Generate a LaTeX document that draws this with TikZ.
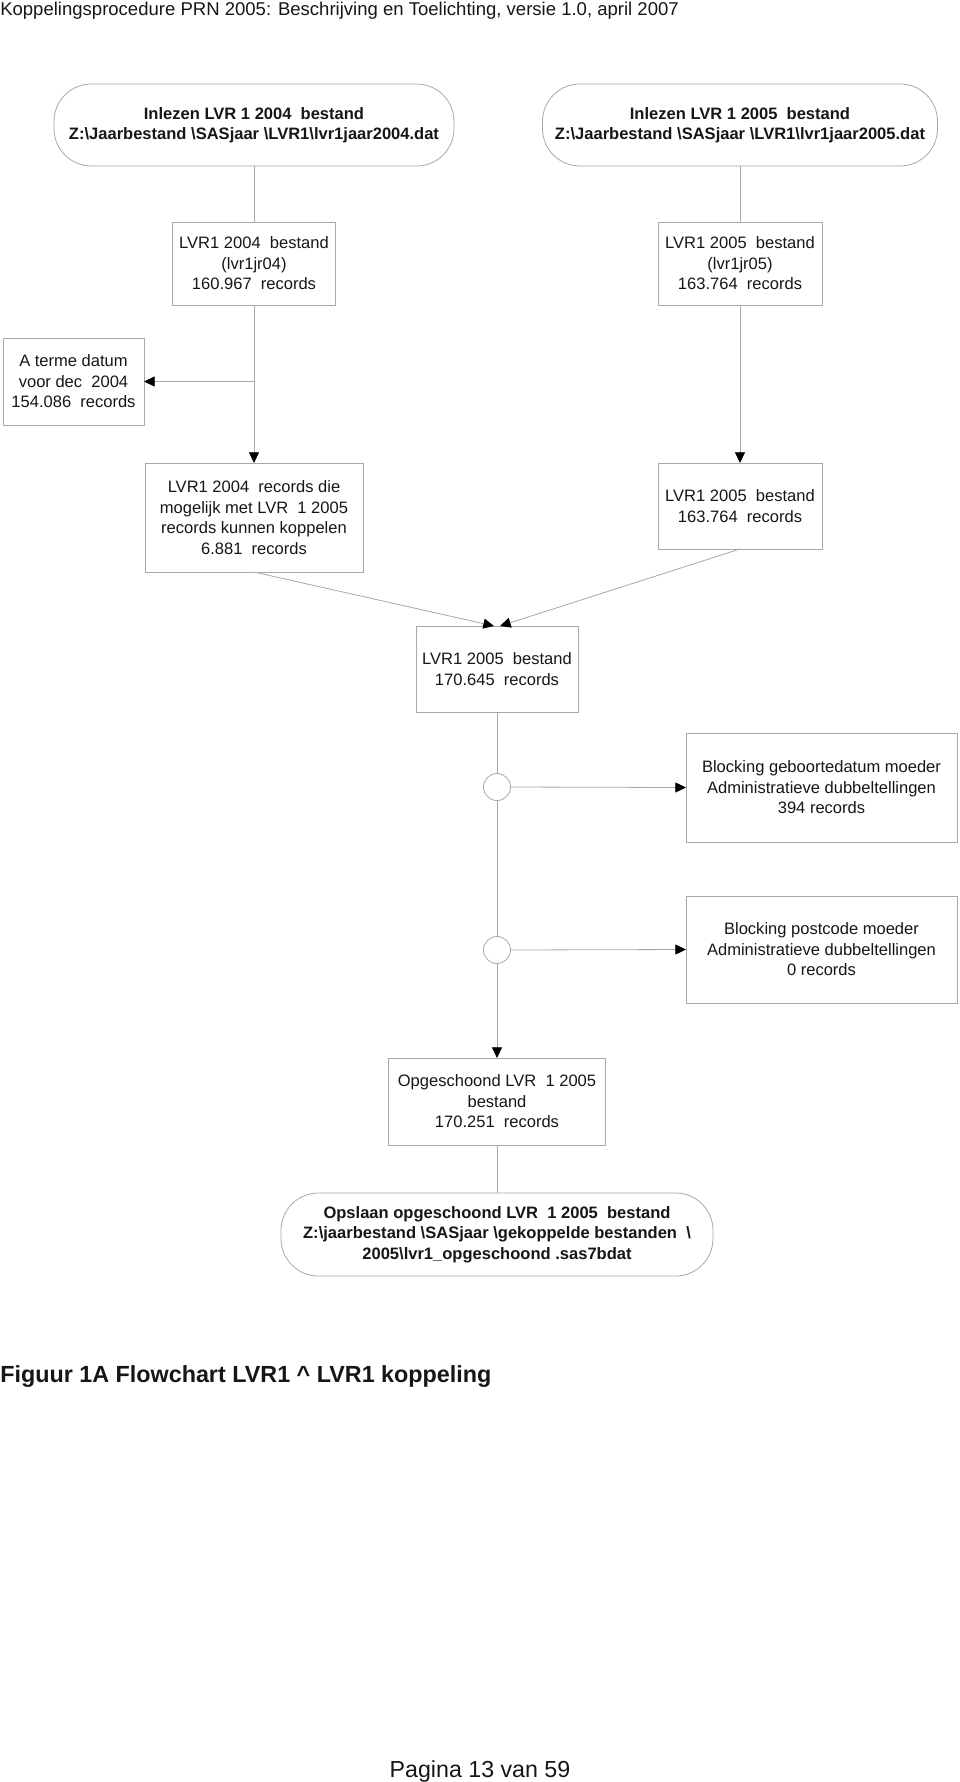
\documentclass[tikz,border=0pt]{standalone}
\usepackage{fontspec}
\setmainfont{Liberation Sans}
\usetikzlibrary{arrows.meta}
\definecolor{edge}{HTML}{A8A8A8}
\definecolor{ink}{HTML}{161616}
\tikzset{
  base/.style={draw=edge,line width=0.6pt,inner sep=0pt,outer sep=0pt,align=center,text=ink,
    font=\fontsize{12.4}{15.4}\selectfont},
  box/.style={base,rectangle},
  rbox/.style={base,rectangle,rounded corners=28pt,font=\bfseries\fontsize{12.4}{15.4}\selectfont},
  junc/.style={draw=edge,line width=0.6pt,circle,minimum size=20.25pt,inner sep=0pt,outer sep=0pt},
  conn/.style={draw=edge,line width=0.6pt},
  arr/.style={conn,-{Triangle[length=8pt,width=7.5pt,color=black]}},
}
\begin{document}
\begin{tikzpicture}[x=0.75pt,y=-0.75pt]
\useasboundingbox (0,0) rectangle (960,1782);

\node[anchor=base west,inner sep=0pt,text=ink,font=\fontsize{13.9}{16}\selectfont] (hdr) at (0,15)
  {Koppelingsprocedure PRN 2005: Beschrijving en Toelichting, versie 1.0, april 2007};

\node[rbox,minimum width=300pt,minimum height=61.5pt] (A) at (254,125)
  {Inlezen LVR 1 2004\ \ bestand\\Z:\textbackslash Jaarbestand \textbackslash SASjaar \textbackslash LVR1\textbackslash lvr1jaar2004.dat};
\node[rbox,minimum width=296.25pt,minimum height=61.5pt] (B) at (740,125)
  {Inlezen LVR 1 2005\ \ bestand\\Z:\textbackslash Jaarbestand \textbackslash SASjaar \textbackslash LVR1\textbackslash lvr1jaar2005.dat};

\node[box,minimum width=122.25pt,minimum height=62.25pt] (C) at (254,263.5)
  {LVR1 2004\ \ bestand\\(lvr1jr04)\\160.967\ \ records};
\node[box,minimum width=123pt,minimum height=62.25pt] (D) at (740,263.5)
  {LVR1 2005\ \ bestand\\(lvr1jr05)\\163.764\ \ records};

\node[box,minimum width=105.75pt,minimum height=65.25pt] (E) at (73.5,381.5)
  {A terme datum\\voor dec\ \ 2004\\154.086\ \ records};

\node[box,minimum width=163.5pt,minimum height=81.75pt] (G) at (254,517.5)
  {LVR1 2004\ \ records die\\mogelijk met LVR\ \ 1 2005\\records kunnen koppelen\\6.881\ \ records};
\node[box,minimum width=123pt,minimum height=64.5pt] (H) at (740,506)
  {LVR1 2005\ \ bestand\\163.764\ \ records};

\node[box,minimum width=121.5pt,minimum height=64.5pt] (I) at (497,669)
  {LVR1 2005\ \ bestand\\170.645\ \ records};

\node[junc] (c1) at (497,787) {};
\node[junc] (c2) at (497,950) {};

\node[box,minimum width=203.25pt,minimum height=81.75pt] (J) at (821.5,787.5)
  {Blocking geboortedatum moeder\\Administratieve dubbeltellingen\\394 records};
\node[box,minimum width=203.25pt,minimum height=80.25pt] (K) at (821.5,949.5)
  {Blocking postcode moeder\\Administratieve dubbeltellingen\\0 records};

\node[box,minimum width=162.75pt,minimum height=65.25pt] (L) at (497,1101.5)
  {Opgeschoond LVR\ \ 1 2005\\bestand\\170.251\ \ records};

\node[rbox,minimum width=324pt,minimum height=62.25pt] (M) at (497,1234.5)
  {Opslaan opgeschoond LVR\ \ 1 2005\ \ bestand\\Z:\textbackslash jaarbestand \textbackslash SASjaar \textbackslash gekoppelde bestanden\ \ \textbackslash\\2005\textbackslash lvr1\_opgeschoond .sas7bdat};

\node[anchor=base west,inner sep=0pt,text=ink,font=\bfseries\fontsize{17.5}{20}\selectfont] (cap) at (0,1382)
  {Figuur 1A Flowchart LVR1 \textasciicircum{} LVR1 koppeling};

\node[anchor=base,inner sep=0pt,text=ink,font=\fontsize{17.4}{20}\selectfont] (foot) at (480,1777)
  {Pagina 13 van 59};

\coordinate (tipL) at (494,626);
\coordinate (tipR) at (500,626);

\draw[conn] (A.south) -- (C.north);
\draw[conn] (B.south) -- (D.north);
\draw[arr] (C.south) -- (G.north);
\draw[arr] (C.south |- E.east) -- (E.east);
\draw[arr] (D.south) -- (H.north);
\draw[arr] (G.south) -- (tipL);
\draw[arr] (H.south) -- (tipR);
\draw[conn] (I.south) -- (c1.north);
\draw[conn] (c1.south) -- (c2.north);
\draw[arr] (c2.south) -- (L.north);
\draw[arr] (c1.east) -- (J.west);
\draw[arr] (c2.east) -- (K.west);
\draw[conn] (L.south) -- (M.north);
\end{tikzpicture}
\end{document}
